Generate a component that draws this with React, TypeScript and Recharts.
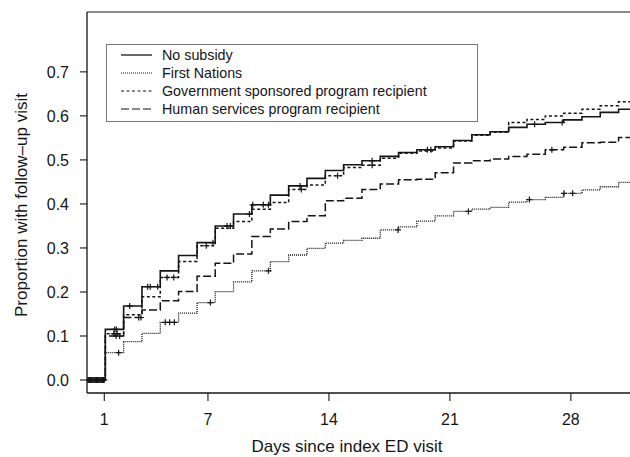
import React from "react";
import {
  ComposedChart,
  Line,
  Scatter,
  XAxis,
  YAxis,
  ReferenceLine,
} from "recharts";

// step times (days) where the curves jump
const STEP_DAYS = [
  1.06, 2.12, 3.18, 4.24, 5.3, 6.37, 7.42, 8.48, 9.54, 10.61, 11.67, 12.73,
  13.79, 14.85, 15.91, 16.97, 18.03, 19.09, 20.15, 21.21, 22.27, 23.33, 24.4,
  25.46, 26.52, 27.58, 28.64, 29.7, 30.76,
];

const NO_SUBSIDY = [
  0.115, 0.168, 0.212, 0.248, 0.283, 0.312, 0.35, 0.377, 0.398, 0.42, 0.441,
  0.458, 0.476, 0.489, 0.498, 0.508, 0.517, 0.523, 0.53, 0.544, 0.557, 0.564,
  0.574, 0.581, 0.585, 0.591, 0.598, 0.608, 0.615,
];
const FIRST_NATIONS = [
  0.062, 0.087, 0.106, 0.131, 0.152, 0.176, 0.201, 0.223, 0.248, 0.269, 0.284,
  0.299, 0.311, 0.317, 0.322, 0.341, 0.348, 0.361, 0.373, 0.383, 0.388, 0.392,
  0.404, 0.41, 0.415, 0.424, 0.432, 0.439, 0.449,
];
const GOV_SPONSORED = [
  0.105, 0.148, 0.189, 0.233, 0.269, 0.305, 0.345, 0.36, 0.388, 0.403, 0.433,
  0.443, 0.464, 0.483, 0.488, 0.504, 0.515, 0.52, 0.527, 0.543, 0.556, 0.563,
  0.585, 0.592, 0.6, 0.606, 0.615, 0.623, 0.632,
];
const HUMAN_SERVICES = [
  0.1, 0.142, 0.159, 0.18, 0.201, 0.236, 0.265, 0.286, 0.326, 0.343, 0.36,
  0.373, 0.407, 0.413, 0.433, 0.445, 0.455, 0.456, 0.471, 0.493, 0.498, 0.502,
  0.508, 0.513, 0.523, 0.529, 0.539, 0.54, 0.551,
];

// censoring marks (days)
const NO_SUBSIDY_CENSORED = [
  0.05, 0.15, 0.25, 0.35, 0.45, 0.55, 0.65, 0.75, 0.85, 0.95, 1.6, 1.7, 2.47,
  3.51, 3.66, 4.09, 7.29, 8.1, 8.3, 9.4, 9.59, 10.2, 10.5, 12.33, 16.5, 19.7,
  19.9, 25.9, 27.5,
];
const FIRST_NATIONS_CENSORED = [
  0.1, 0.3, 0.5, 0.7, 0.9, 1.83, 4.53, 4.78, 5.05, 7.14, 10.5, 18.0, 22.07,
  25.6, 27.6, 28.1,
];
const GOV_SPONSORED_CENSORED = [
  0.2, 0.4, 0.6, 0.8, 1.0, 1.55, 1.75, 4.63, 5.02, 6.9, 12.4, 14.5, 16.5,
];
const HUMAN_SERVICES_CENSORED = [1.68, 1.89, 2.99, 3.12, 26.9];

const X_TICKS = [1, 7, 14, 21, 28];
const Y_TICKS = [0, 0.1, 0.2, 0.3, 0.4, 0.5, 0.6, 0.7];
const X_DOMAIN = [0, 32];
const Y_DOMAIN = [-0.0295, 0.836];

const SERIES = [
  { name: "No subsidy", values: NO_SUBSIDY, censored: NO_SUBSIDY_CENSORED, dash: undefined, width: 1.6 },
  { name: "First Nations", values: FIRST_NATIONS, censored: FIRST_NATIONS_CENSORED, dash: "1 1", width: 1.3 },
  { name: "Government sponsored program recipient", values: GOV_SPONSORED, censored: GOV_SPONSORED_CENSORED, dash: "3 2.5", width: 1.5 },
  { name: "Human services program recipient", values: HUMAN_SERVICES, censored: HUMAN_SERVICES_CENSORED, dash: "8 3", width: 1.5 },
];

const FONT = "'Liberation Sans', Arial, Helvetica, sans-serif";
const INK = "#151515";

function stepData(values: number[]) {
  const pts = [{ day: 0, v: 0 }];
  STEP_DAYS.forEach((d, i) => pts.push({ day: d, v: values[i] }));
  pts.push({ day: X_DOMAIN[1], v: values[values.length - 1] });
  return pts;
}

function valueAt(values: number[], day: number) {
  let v = 0;
  STEP_DAYS.forEach((d, i) => {
    if (d <= day) v = values[i];
  });
  return v;
}

const PlusMark = (props: any) => {
  const { cx, cy } = props;
  if (cx == null || cy == null) return null;
  return (
    <path
      d={`M${cx - 3},${cy}h6M${cx},${cy - 3}v6`}
      stroke={INK}
      strokeWidth={1.2}
      fill="none"
    />
  );
};

function LegendBox() {
  return (
    <div
      style={{
        position: "absolute",
        left: 106,
        top: 44,
        width: 372,
        height: 78,
        boxSizing: "border-box",
        border: "1px solid #777",
        background: "#fff",
        paddingTop: 1,
        fontFamily: FONT,
        fontSize: 14.3,
        color: INK,
      }}
    >
      {SERIES.map((s) => (
        <div key={s.name} style={{ display: "flex", alignItems: "center", height: 18 }}>
          <svg width={31} height={4} style={{ marginLeft: 14, marginRight: 10 }}>
            <line x1={0} y1={2} x2={31} y2={2} stroke={INK} strokeWidth={s.width * 0.8} strokeDasharray={s.dash} />
          </svg>
          <span style={{ whiteSpace: "nowrap" }}>{s.name}</span>
        </div>
      ))}
    </div>
  );
}

export default function App() {
  return (
    <div
      style={{
        position: "absolute",
        left: 0,
        top: 0,
        width: 630,
        height: 457,
        overflow: "hidden",
        background: "#fff",
      }}
    >
      <ComposedChart
        width={660}
        height={457}
        margin={{ top: 12, right: 20, bottom: 0, left: 0 }}
      >
        <XAxis
          type="number"
          dataKey="day"
          domain={X_DOMAIN}
          ticks={X_TICKS}
          allowDataOverflow
          height={64}
          tickSize={8}
          tickMargin={13}
          axisLine={{ stroke: INK, strokeWidth: 1.3 }}
          tickLine={{ stroke: INK, strokeWidth: 1.1 }}
          tick={{ fill: INK, fontSize: 16, fontFamily: FONT }}
          label={{
            content: () => (
              <text x={347} y={452} textAnchor="middle" fill={INK} fontSize={17} fontFamily={FONT}>
                Days since index ED visit
              </text>
            ),
          }}
        />
        <YAxis
          type="number"
          dataKey="v"
          domain={Y_DOMAIN}
          ticks={Y_TICKS}
          allowDataOverflow
          width={87}
          tickSize={7}
          tickMargin={11}
          tickFormatter={(t: number) => t.toFixed(1)}
          axisLine={{ stroke: INK, strokeWidth: 1.3 }}
          tickLine={{ stroke: INK, strokeWidth: 1.1 }}
          tick={{ fill: INK, fontSize: 16, fontFamily: FONT }}
          label={{
            content: () => (
              <text
                x={27}
                y={205}
                textAnchor="middle"
                transform="rotate(-90, 27, 205)"
                fill={INK}
                fontSize={17}
                fontFamily={FONT}
              >
                Proportion with follow–up visit
              </text>
            ),
          }}
        />
        <ReferenceLine y={Y_DOMAIN[1]} stroke="#666" strokeWidth={1.3} />
        {SERIES.map((s) => (
          <Line
            key={s.name}
            data={stepData(s.values)}
            dataKey="v"
            type="stepAfter"
            stroke={INK}
            strokeWidth={s.width}
            strokeDasharray={s.dash}
            dot={false}
            activeDot={false}
            isAnimationActive={false}
          />
        ))}
        {SERIES.map((s) => (
          <Scatter
            key={s.name + "-c"}
            data={s.censored.map((d) => ({ day: d, v: valueAt(s.values, d) }))}
            dataKey="v"
            shape={PlusMark}
            isAnimationActive={false}
          />
        ))}
      </ComposedChart>
      <LegendBox />
    </div>
  );
}
